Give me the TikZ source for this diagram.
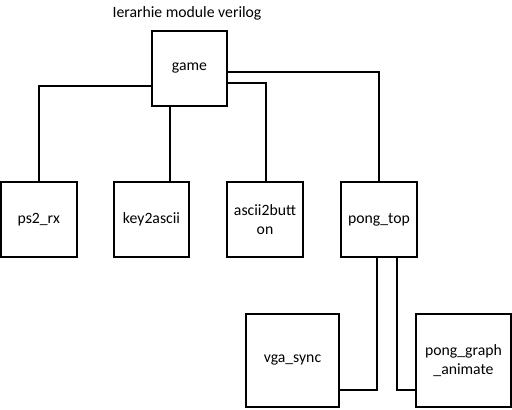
\documentclass[tikz,border=0pt]{standalone}
\usepackage{fontspec}
\setmainfont{Carlito}
\begin{document}
\begin{tikzpicture}[x=0.75pt,y=-0.75pt,
  mod/.style={draw=black,line width=1.1pt,fill=white,inner sep=0pt,align=center,
    font=\fontsize{11.8}{14.5}\selectfont},
  link/.style={draw=black,line width=1.1pt}]
\useasboundingbox (0,0) rectangle (512,410);
\node[font=\fontsize{11.8}{14}\selectfont] (title) at (187,13) {Ierarhie module verilog};
\node[mod,minimum width=75*0.75pt,minimum height=75*0.75pt] (game) at (189.5,68.5) {game};
\node[mod,minimum width=76*0.75pt,minimum height=75*0.75pt] (ps2) at (38.8,219.5) {ps2\_rx};
\node[mod,minimum width=75*0.75pt,minimum height=75*0.75pt] (key) at (151.5,219.5) {key2ascii};
\node[mod,minimum width=76*0.75pt,minimum height=75*0.75pt] (asc) at (265,219.5) {ascii2butt\\on};
\node[mod,minimum width=76*0.75pt,minimum height=75*0.75pt] (pong) at (379,219.5) {pong\_top};
\node[mod,minimum width=93*0.75pt,minimum height=93*0.75pt] (vga) at (292.5,360.5) {vga\_sync};
\node[mod,minimum width=95*0.75pt,minimum height=93*0.75pt] (graph) at (463.5,360.5) {pong\_graph\\\_animate};
\coordinate (y86) at (0,86);
\coordinate (y83) at (0,83);
\coordinate (y72) at (0,72);
\coordinate (x170) at (170,0);
\coordinate (x266) at (266,0);
\coordinate (x380) at (379,0);
\coordinate (x377) at (377,0);
\coordinate (x397) at (397,0);
\coordinate (y390) at (0,390);
\draw[link] (game.west |- y86) -| (ps2.north);
\draw[link] (game.south -| x170) -- (key.north -| x170);
\draw[link] (game.east |- y83) -| (asc.north -| x266);
\draw[link] (game.east |- y72) -| (pong.north -| x380);
\draw[link] (pong.south -| x377) |- (vga.east |- y390);
\draw[link] (pong.south -| x397) |- (graph.west |- y390);
\end{tikzpicture}
\end{document}
